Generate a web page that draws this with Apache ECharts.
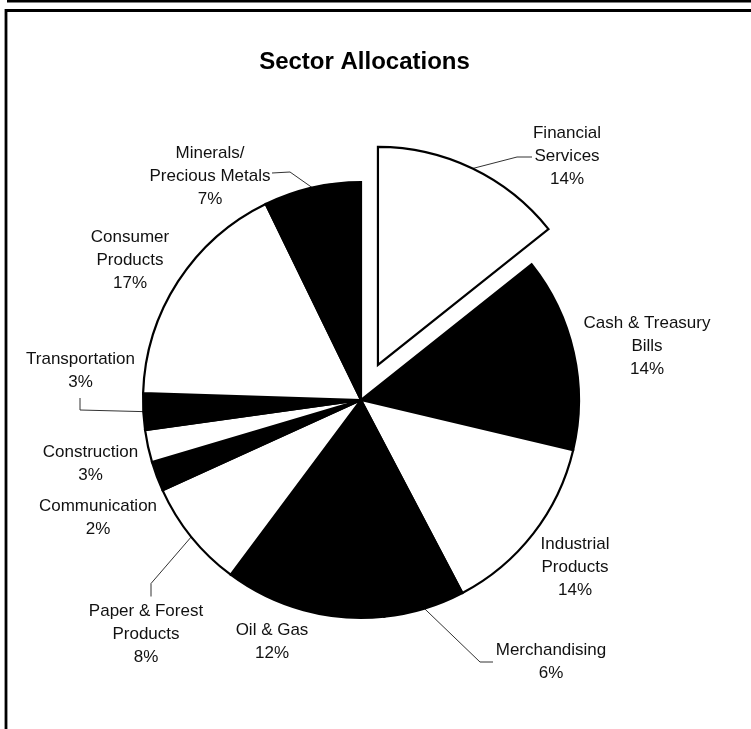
<!DOCTYPE html>
<html><head><meta charset="utf-8">
<script src="https://cdn.jsdelivr.net/npm/echarts@6/dist/echarts.min.js"></script>
<style>html,body{margin:0;padding:0;background:#fff}#c{width:751px;height:729px}</style>
</head><body><div id="c"></div>
<script>
// ---- data ----
const categories = ['Financial\nServices', 'Cash & Treasury\nBills', 'Industrial\nProducts', 'Merchandising', 'Oil & Gas',
  'Paper & Forest\nProducts', 'Communication', 'Construction', 'Transportation', 'Consumer\nProducts', 'Minerals/\nPrecious Metals'];
const shares = [14.3, 14.4, 13.6, 6.0, 11.9, 8.0, 2.2, 2.4, 2.7, 17.3, 7.2];
const labelPercents = [14, 14, 14, 6, 12, 8, 2, 3, 3, 17, 7];
const explodedIndex = 0;

// ---- styles / layout (not data) ----
const fills = ['#ffffff', '#000000', '#ffffff', '#000000', '#000000', '#ffffff', '#000000', '#ffffff', '#000000', '#ffffff', '#000000'];
const labelAnchors = [
  {x: 567, y: 156, line: [[-50, 1], [-35, 1]]},
  {x: 647, y: 346},
  {x: 575, y: 567},
  {x: 551, y: 661.5, line: [[-71, 0.5], [-58, 0.5]]},
  {x: 272, y: 641.5},
  {x: 146, y: 634.5, line: [[5, -51], [5, -38]]},
  {x: 98, y: 518},
  {x: 90.5, y: 463.5},
  {x: 80.5, y: 371, line: [[-0.5, 39], [-0.5, 27]]},
  {x: 130, y: 260},
  {x: 210, y: 176, line: [[80, -4], [62, -3]]}
];
const PIE_CENTER = [361, 400];
const PIE_RADIUS = 218;
const EXPLODE = 39;
const FONT = '"Liberation Sans", Arial, sans-serif';

// offset of the exploded slice along its mid-angle (clockwise from 12 o'clock)
const total = shares.reduce((a, b) => a + b, 0);
const before = shares.slice(0, explodedIndex).reduce((a, b) => a + b, 0);
const midAngle = (before + shares[explodedIndex] / 2) / total * 2 * Math.PI;
const explodedCenter = [PIE_CENTER[0] + EXPLODE * Math.sin(midAngle), PIE_CENTER[1] - EXPLODE * Math.cos(midAngle)];

const hidden = {color: 'rgba(0,0,0,0)', borderWidth: 0};
function buildData(forExploded) {
  return categories.map((name, i) => {
    const visible = forExploded ? i === explodedIndex : i !== explodedIndex;
    return {
      name: name,
      value: shares[i],
      itemStyle: visible ? {color: fills[i]} : hidden,
      label: {show: visible},
      labelLine: {show: visible && !!labelAnchors[i].line}
    };
  });
}

const labelLayout = function (p) {
  const a = labelAnchors[p.dataIndex];
  const r = {x: a.x, y: a.y, align: 'center', verticalAlign: 'middle'};
  if (a.line && p.labelLinePoints) {
    const s = p.labelLinePoints[0];
    r.labelLinePoints = [[s[0], s[1]], [a.x + a.line[0][0], a.y + a.line[0][1]], [a.x + a.line[1][0], a.y + a.line[1][1]]];
  }
  return r;
};

function pieSeries(center, forExploded) {
  return {
    type: 'pie',
    center: center,
    radius: PIE_RADIUS,
    startAngle: 90,
    clockwise: true,
    avoidLabelOverlap: false,
    silent: true,
    emphasis: {disabled: true},
    itemStyle: {borderColor: '#000', borderWidth: 2.2, borderJoin: 'miter'},
    label: {
      position: 'outside',
      fontSize: 17,
      lineHeight: 23,
      fontFamily: FONT,
      color: '#111',
      align: 'center',
      formatter: p => p.name + '\n' + labelPercents[p.dataIndex] + '%'
    },
    labelLine: {length: 10, length2: 10, lineStyle: {color: '#333', width: 1}},
    labelLayout: labelLayout,
    data: buildData(forExploded)
  };
}

const chart = echarts.init(document.getElementById('c'), null, {renderer: 'canvas'});
chart.setOption({
  animation: false,
  backgroundColor: '#ffffff',
  graphic: [
    {type: 'line', shape: {x1: 7, y1: 1.2, x2: 751, y2: 1.2}, style: {stroke: '#000', lineWidth: 2.6}, silent: true},
    {type: 'rect', shape: {x: 6, y: 10.5, width: 800, height: 800}, style: {stroke: '#000', lineWidth: 2.8, fill: null}, silent: true},
    {type: 'text', x: 364.5, y: 62, silent: true,
      style: {text: 'Sector Allocations', font: 'bold 24px ' + FONT, fill: '#000', align: 'center', verticalAlign: 'middle'}}
  ],
  series: [pieSeries(PIE_CENTER, false), pieSeries(explodedCenter, true)]
});
</script>
</body></html>
